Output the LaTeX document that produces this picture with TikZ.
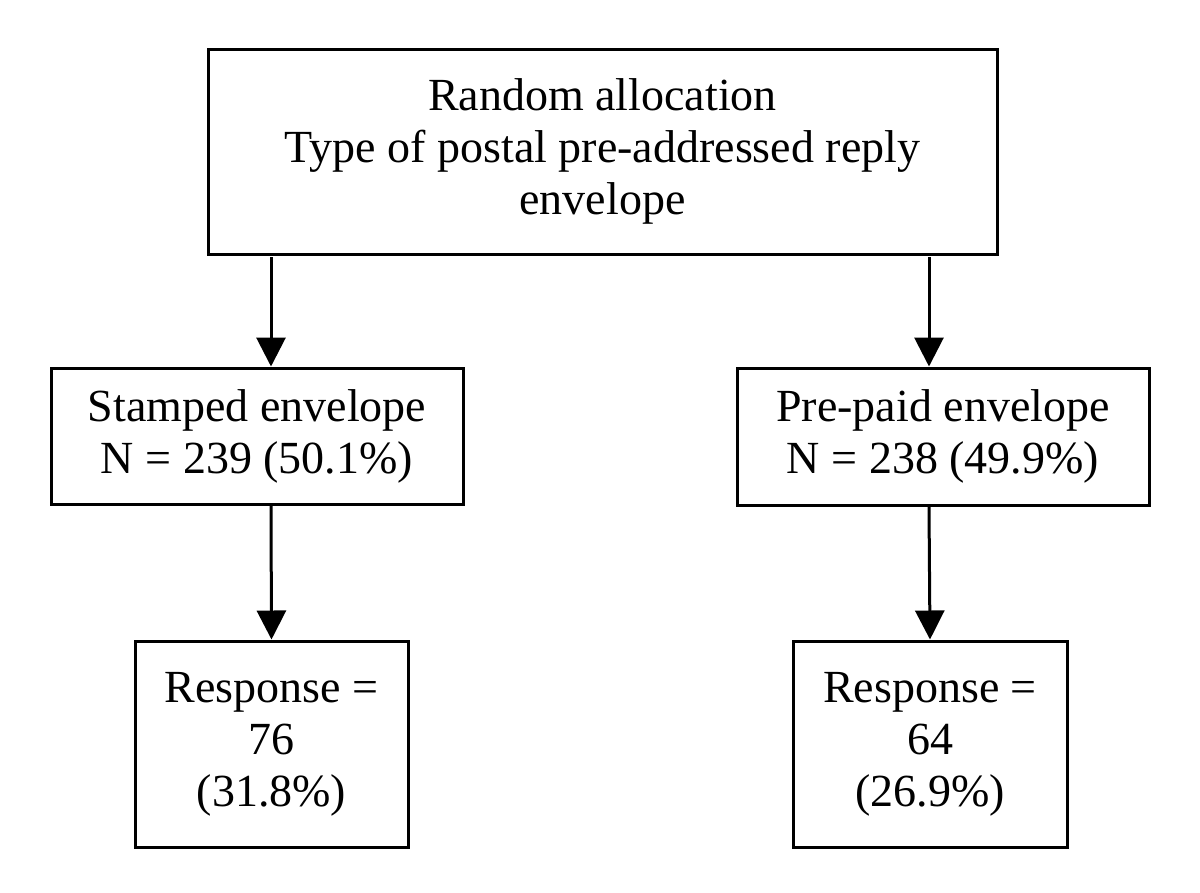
\documentclass[tikz,border=0pt]{standalone}
\usepackage{fontspec}
\setmainfont{Liberation Serif}
\usetikzlibrary{arrows.meta}
\begin{document}
\begin{tikzpicture}[x=1pt,y=-1pt,
  box/.style={draw=black, line width=3pt, align=center, inner sep=0pt,
    font=\fontsize{46}{52}\selectfont},
  conn/.style={line width=3pt, -{Triangle[length=29pt,width=29pt]}}]
\useasboundingbox (0,0) rectangle (1200,892);
\node[box, minimum width=789pt, minimum height=205pt] (top) at (602.5,151.5)
  {Random allocation\\Type of postal pre-addressed reply\\envelope};
\node[box, minimum width=412pt, minimum height=136pt] (sl) at (257,436)
  {Stamped envelope\\N = 239 (50.1\%)};
\node[box, minimum width=412pt, minimum height=137pt] (pr) at (943,436.5)
  {Pre-paid envelope\\N = 238 (49.9\%)};
\node[box, minimum width=273pt, minimum height=206pt] (rl) at (271.5,744)
  {Response =\\76\\(31.8\%)};
\node[box, minimum width=274pt, minimum height=206pt] (rr) at (930,744)
  {Response =\\64\\(26.9\%)};
\coordinate (a1) at (271,257);
\coordinate (a2) at (929,257);
\draw[conn] (a1) -- (a1 |- sl.north);
\draw[conn] (a2) -- (a2 |- pr.north);
\draw[conn] (a1 |- sl.south) -- (rl.north);
\draw[conn] (a2 |- pr.south) -- (rr.north);
\end{tikzpicture}
\end{document}
